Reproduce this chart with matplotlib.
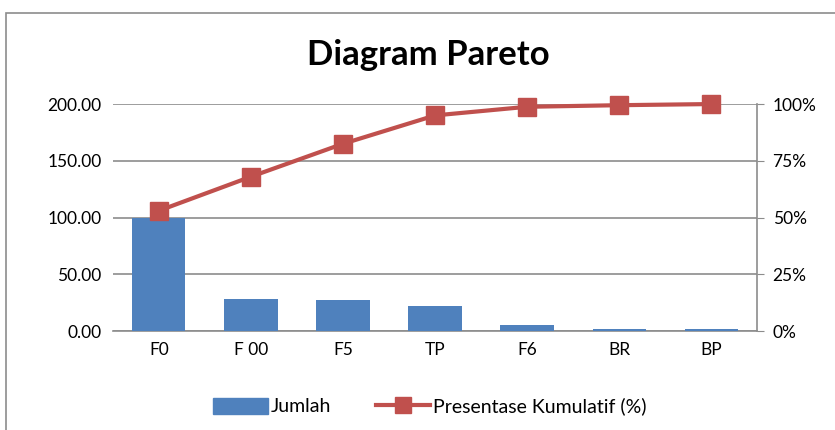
import matplotlib.pyplot as plt
from matplotlib.patches import Rectangle
from matplotlib.lines import Line2D
from matplotlib.patches import Patch
import numpy as np

# data
kategori = ['F0', 'F 00', 'F5', 'TP', 'F6', 'BR', 'BP']
jumlah = [100, 28, 27, 22.5, 5.5, 2, 2]
kumulatif = [53, 68, 82.5, 95, 98.8, 99.5, 100]

plt.rcParams['font.family'] = ['Lato', 'DejaVu Sans']

fig = plt.figure(figsize=(8.35, 4.3), dpi=100)
ax = fig.add_axes([0.135, 0.230, 0.772, 0.528])

# outer chart border
fig.patches.append(Rectangle((6 / 835, -0.1), 1.2, 1 - 13 / 430 + 0.1,
                             transform=fig.transFigure, fill=False,
                             edgecolor='#8c8c8c', linewidth=1.2))

x = np.arange(len(kategori))
ax.bar(x, jumlah, width=0.58, color='#4F81BD', zorder=2)
ax.set_xlim(-0.5, len(kategori) - 0.5)
ax.set_ylim(0, 200)
ax.set_yticks(np.arange(0, 201, 50))
ax.set_yticklabels([f'{v:.2f}' for v in np.arange(0, 201, 50)])
ax.set_xticks(x)
ax.set_xticklabels(kategori)
ax.grid(axis='y', color='#8c8c8c', linewidth=1.2, zorder=0)
ax.tick_params(axis='both', length=0, labelsize=12.5, pad=8)
for s in ['left', 'top', 'right']:
    ax.spines[s].set_visible(False)
ax.spines['bottom'].set_color('#8c8c8c')
ax.spines['bottom'].set_linewidth(1.2)
ax.spines['bottom'].set_zorder(1)

ax2 = ax.twinx()
ax2.plot(x, kumulatif, color='#C0504D', linewidth=3, marker='s',
         markersize=13, zorder=3, clip_on=False)
ax2.set_ylim(0, 100)
ax2.set_yticks([0, 25, 50, 75, 100])
ax2.set_yticklabels(['0%', '25%', '50%', '75%', '100%'])
ax2.tick_params(axis='y', length=5, color='#8c8c8c', labelsize=12.5, pad=6)
for s in ['left', 'top', 'bottom']:
    ax2.spines[s].set_visible(False)
ax2.spines['right'].set_color('#8c8c8c')
ax2.spines['right'].set_linewidth(1.2)

fig.text(0.513, 0.872, 'Diagram Pareto', ha='center', va='center',
         fontsize=25, fontweight='bold')

handles = [Patch(color='#4F81BD', label='Jumlah'),
           Line2D([0], [0], color='#C0504D', linewidth=3, marker='s',
                  markersize=11, label='Presentase Kumulatif (%)')]
fig.legend(handles=handles, loc='center', bbox_to_anchor=(0.515, 0.055),
           ncol=2, frameon=False, fontsize=14, handlelength=2.8,
           handleheight=0.9, columnspacing=2.3, handletextpad=0.15)

fig.savefig('out.png', dpi=100)
